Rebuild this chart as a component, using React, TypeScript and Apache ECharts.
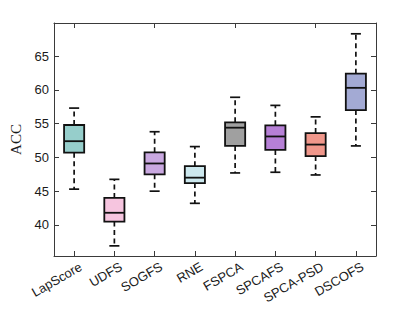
import React, { useEffect, useRef } from "react";
import * as echarts from "echarts";

const categories = ["LapScore", "UDFS", "SOGFS", "RNE", "FSPCA", "SPCAFS", "SPCA-PSD", "DSCOFS"];
// [low whisker, q1, median, q3, high whisker]
const boxValues: number[][] = [
  [45.3, 50.7, 52.4, 54.8, 57.3],
  [36.9, 40.5, 41.8, 44.0, 46.75],
  [45.0, 47.5, 49.1, 50.75, 53.8],
  [43.2, 46.2, 47.0, 48.7, 51.6],
  [47.7, 51.7, 54.4, 55.2, 58.9],
  [47.8, 51.1, 53.1, 54.75, 57.7],
  [47.4, 50.2, 51.9, 53.6, 56.0],
  [51.7, 57.0, 60.3, 62.4, 68.3],
];
const boxColors = ["#96CECB", "#F6C5DF", "#C9A8E0", "#CCE8EE", "#A0A0A0", "#B680D6", "#F0978B", "#A3AAD4"];
const yTicks = [40, 45, 50, 55, 60, 65];
const yMin = 35.4;
const yMax = 69.9;

export default function App() {
  const ref = useRef<HTMLDivElement>(null);
  useEffect(() => {
    if (!ref.current) return;
    const chart = echarts.init(ref.current, null, { renderer: "svg" });
    const axisColor = "#3a3a3a";
    const data = boxValues.map((v, i) => [i, ...v]);
    chart.setOption({
      animation: false,
      backgroundColor: "#fff",
      grid: { left: 54, top: 23, right: 39, bottom: 56 },
      xAxis: [
        {
          type: "category",
          data: categories,
          position: "bottom",
          axisLine: { show: true, onZero: false, lineStyle: { color: axisColor, width: 1 } },
          axisTick: { show: true, inside: true, alignWithLabel: true, length: 5, lineStyle: { color: axisColor } },
          axisLabel: {
            rotate: 30,
            color: "#1a1a1a",
            fontFamily: "Liberation Sans, Arial, sans-serif",
            fontSize: 13,
            margin: 6,
            interval: 0,
            verticalAlign: "top",
            padding: [0, -4, 0, 0],
          },
          splitLine: { show: false },
        },
        {
          type: "category",
          data: categories,
          position: "top",
          axisLine: { show: true, onZero: false, lineStyle: { color: axisColor, width: 1 } },
          axisTick: { show: true, inside: true, alignWithLabel: true, length: 5, lineStyle: { color: axisColor } },
          axisLabel: { show: false },
          splitLine: { show: false },
        },
      ],
      yAxis: [
        {
          type: "value",
          min: yMin,
          max: yMax,
          position: "left",
          name: "ACC",
          nameLocation: "middle",
          nameGap: 23,
          nameTextStyle: { fontFamily: "Liberation Serif, Times New Roman, serif", fontSize: 15, color: "#1a1a1a" },
          axisLine: { show: true, onZero: false, lineStyle: { color: axisColor, width: 1 } },
          axisTick: { show: true, inside: true, length: 5, customValues: yTicks, lineStyle: { color: axisColor } },
          axisLabel: {
            customValues: yTicks,
            color: "#1a1a1a",
            fontFamily: "Liberation Sans, Arial, sans-serif",
            fontSize: 13,
            margin: 5,
          },
          splitLine: { show: false },
        },
        {
          type: "value",
          min: yMin,
          max: yMax,
          position: "right",
          axisLine: { show: true, onZero: false, lineStyle: { color: axisColor, width: 1 } },
          axisTick: { show: true, inside: true, length: 5, customValues: yTicks, lineStyle: { color: axisColor } },
          axisLabel: { show: false },
          splitLine: { show: false },
        },
      ],
      series: [
        {
          type: "custom",
          xAxisIndex: 0,
          yAxisIndex: 0,
          data,
          encode: { x: 0, y: [1, 2, 3, 4, 5] },
          renderItem: (params: any, api: any) => {
            const idx = api.value(0);
            const low = api.coord([idx, api.value(1)]);
            const q1 = api.coord([idx, api.value(2)]);
            const med = api.coord([idx, api.value(3)]);
            const q3 = api.coord([idx, api.value(4)]);
            const high = api.coord([idx, api.value(5)]);
            const bw = api.size([1, 0])[0] * 0.5;
            const cw = bw * 0.5;
            const x = low[0];
            const black = "#111";
            const dash = { stroke: black, lineWidth: 1.7, lineDash: [5, 3.5] };
            const solid = { stroke: black, lineWidth: 1.7 };
            return {
              type: "group",
              children: [
                { type: "line", shape: { x1: x, y1: q3[1], x2: x, y2: high[1] }, style: dash },
                { type: "line", shape: { x1: x, y1: q1[1], x2: x, y2: low[1] }, style: dash },
                { type: "line", shape: { x1: x - cw / 2, y1: high[1], x2: x + cw / 2, y2: high[1] }, style: solid },
                { type: "line", shape: { x1: x - cw / 2, y1: low[1], x2: x + cw / 2, y2: low[1] }, style: solid },
                {
                  type: "rect",
                  shape: { x: x - bw / 2, y: q3[1], width: bw, height: q1[1] - q3[1] },
                  style: { fill: boxColors[params.dataIndex], stroke: black, lineWidth: 1.8 },
                },
                { type: "line", shape: { x1: x - bw / 2, y1: med[1], x2: x + bw / 2, y2: med[1] }, style: { stroke: black, lineWidth: 1.8 } },
              ],
            };
          },
        },
      ],
    });
    return () => chart.dispose();
  }, []);
  return <div ref={ref} style={{ position: "fixed", left: 0, top: 0, width: 415, height: 312 }} />;
}
